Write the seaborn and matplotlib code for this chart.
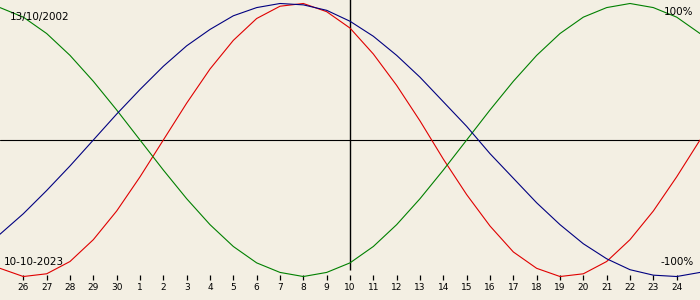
import matplotlib
matplotlib.use("Agg")
import matplotlib.pyplot as plt
import seaborn as sns
import pandas as pd

# Day offsets relative to the target date (10-10-2023), one point per day
day_offsets = list(range(-15, 16))
# Day-of-month labels for offsets -15..15 (Sep 25 .. Oct 25)
day_labels = ["25", "26", "27", "28", "29", "30", "1", "2", "3", "4", "5", "6", "7", "8", "9",
              "10", "11", "12", "13", "14", "15", "16", "17", "18", "19", "20", "21", "22", "23",
              "24", "25"]

physical = [-0.94, -1.00, -0.98, -0.89, -0.73, -0.52, -0.27, 0.00, 0.27, 0.52, 0.73, 0.89,
            0.98, 1.00, 0.94, 0.82, 0.63, 0.40, 0.14, -0.14, -0.40, -0.63, -0.82, -0.94,
            -1.00, -0.98, -0.89, -0.73, -0.52, -0.27, 0.00]
emotional = [0.97, 0.90, 0.78, 0.62, 0.43, 0.22, 0.00, -0.22, -0.43, -0.62, -0.78, -0.90,
             -0.97, -1.00, -0.97, -0.90, -0.78, -0.62, -0.43, -0.22, 0.00, 0.22, 0.43, 0.62,
             0.78, 0.90, 0.97, 1.00, 0.97, 0.90, 0.78]
intellectual = [-0.69, -0.54, -0.37, -0.19, 0.00, 0.19, 0.37, 0.54, 0.69, 0.81, 0.91, 0.97,
                1.00, 0.99, 0.95, 0.87, 0.76, 0.62, 0.46, 0.28, 0.10, -0.10, -0.28, -0.46,
                -0.62, -0.76, -0.87, -0.95, -0.99, -1.00, -0.97]

birth_label = "13/10/2002"
target_label = "10-10-2023"
top_label = "100%"
bottom_label = "-100%"

series_names = ["physical", "emotional", "intellectual"]
series_colors = {"physical": "#e00000", "emotional": "#008000", "intellectual": "#000080"}

rows = []
for name, vals in zip(series_names, [physical, emotional, intellectual]):
    for d, v in zip(day_offsets, vals):
        rows.append({"day": d, "value": v, "series": name})
df = pd.DataFrame(rows)

sns.set_theme(style="white")
plt.rcParams["font.family"] = ["DejaVu Sans"]

bg = "#f3efe3"
fig = plt.figure(figsize=(7, 3), dpi=100, facecolor=bg)
ax = fig.add_axes([0, 0, 1, 1])
ax.set_facecolor(bg)

# reference lines
ax.axhline(0, color="black", lw=0.8, zorder=1)
ax.vlines(0, -0.952, 1.1, color="black", lw=1.0, zorder=1)

sns.lineplot(data=df, x="day", y="value", hue="series", hue_order=series_names,
             palette=series_colors, linewidth=0.8, legend=False, ax=ax, zorder=3)

ax.set_xlim(-15, 15)
ax.set_ylim(-1.172, 1.0256)
ax.set_xticks([])
ax.set_yticks([])
ax.set_xlabel("")
ax.set_ylabel("")
for s in ax.spines.values():
    s.set_visible(False)

# day ticks and labels (inner days only)
inner = [(d, lab) for d, lab in zip(day_offsets, day_labels) if -15 < d < 15]
ax.vlines([d for d, _ in inner], -1.026, -0.989, color="black", lw=0.9, zorder=2)
for d, lab in inner:
    ax.text(d, -1.084, lab, ha="center", va="center", fontsize=6.5, color="black")

ax.text(10 / 700, 1 - 17 / 300, birth_label, transform=ax.transAxes, ha="left",
        va="center", fontsize=7.5, color="black", zorder=4)
ax.text(4 / 700, 1 - 262 / 300, target_label, transform=ax.transAxes, ha="left",
        va="center", fontsize=7.5, color="black", zorder=4)
ax.text(693 / 700, 1 - 12 / 300, top_label, transform=ax.transAxes, ha="right",
        va="center", fontsize=7.5, color="black", zorder=4)
ax.text(694 / 700, 1 - 262 / 300, bottom_label, transform=ax.transAxes, ha="right",
        va="center", fontsize=7.5, color="black", zorder=4)

fig.savefig("out.png", dpi=100, facecolor=bg)
